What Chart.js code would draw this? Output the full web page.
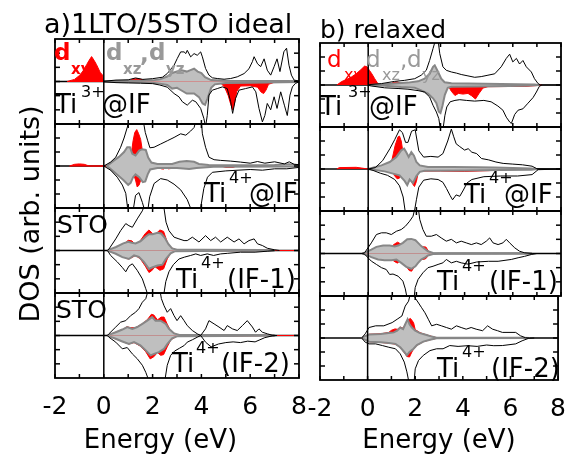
<!DOCTYPE html>
<html>
<head>
<meta charset="utf-8">
<script src="https://cdn.jsdelivr.net/npm/chart.js@4.4.1/dist/chart.umd.min.js"></script>
<style>
  html, body { margin: 0; padding: 0; background: #fff; }
  #wrap { position: relative; width: 580px; height: 454px; overflow: hidden; }
  #wrap canvas { position: absolute; left: 0; top: 0; }
</style>
</head>
<body>
<div id="wrap"></div>
<script>
// [energy (eV), DOS] pairs. tot = black outline, xz = gray d_xz,d_yz, xy = red d_xy
// a) 1LTO/5STO ideal
const a1_tot_up = [[0,0.02],[0.5,0.1],[1.0,0.12],[1.3,0.25],[1.6,0.15],[2.0,0.2],[2.4,0.3],[2.6,0.56],[2.88,1.15],[3.01,1.62],[3.15,2.09],[3.29,2.09],[3.36,1.97],[3.42,2.2],[3.56,1.74],[3.7,1.97],[3.83,1.85],[3.97,2.09],[4.04,1.74],[4.17,0.92],[4.31,0.45],[4.45,0.26],[4.65,0.21],[4.93,0.16],[5.2,0.21],[5.47,0.33],[5.75,0.56],[5.95,0.9],[6.09,1.4],[6.16,1.75],[6.3,1.25],[6.43,1.05],[6.57,1.6],[6.7,0.8],[6.84,0.45],[6.98,1.05],[7.1,1.6],[7.22,0.7],[7.38,2.1],[7.49,2.35],[7.59,1.15],[7.69,0.45],[7.8,0.1],[8,0.03]];
const a1_tot_dn = [[0,-0.02],[0.5,-0.08],[1.0,-0.1],[1.5,-0.12],[2.0,-0.15],[2.3,-0.25],[2.6,-0.4],[2.88,-0.85],[3.08,-1.08],[3.22,-1.43],[3.42,-1.67],[3.63,-1.32],[3.77,-1.43],[3.97,-1.9],[4.1,-2.6],[4.17,-3.2],[4.24,-2.4],[4.31,-0.96],[4.45,-0.61],[4.65,-0.5],[4.86,-0.38],[5.06,-0.5],[5.2,-1.43],[5.28,-2.25],[5.4,-1.2],[5.54,-0.61],[5.81,-0.5],[6.09,-0.38],[6.23,-0.73],[6.36,-1.9],[6.5,-2.85],[6.6,-2.4],[6.7,-1.55],[6.84,-2.0],[6.98,-1.08],[7.1,-1.9],[7.25,-0.73],[7.4,-1.67],[7.52,-2.4],[7.63,-0.96],[7.73,-0.38],[7.85,-0.14],[8,-0.02]];
const a1_xz_up = [[0,0],[0.5,0.04],[1.5,0.06],[2.0,0.08],[2.3,0.15],[2.6,0.35],[2.8,0.6],[3.0,0.7],[3.2,0.8],[3.4,0.7],[3.55,0.8],[3.7,0.9],[3.85,0.7],[4.0,0.6],[4.15,0.3],[4.4,0.1],[5,0.05],[7.5,0.03],[8,0.02]];
const a1_xz_dn = [[0,0],[0.5,-0.04],[1.5,-0.06],[2.06,-0.1],[2.3,-0.15],[2.6,-0.25],[2.8,-0.5],[3.0,-0.45],[3.15,-0.6],[3.4,-0.85],[3.7,-0.85],[3.9,-1.1],[4.05,-1.55],[4.15,-1.65],[4.25,-1.2],[4.4,-0.45],[4.55,-0.2],[5,-0.1],[6,-0.08],[8,-0.03]];
const a1_xy_up = [[-1.5,0],[-1.2,0.15],[-1.0,0.42],[-0.85,0.75],[-0.7,1.2],[-0.6,1.5],[-0.5,1.76],[-0.4,1.5],[-0.3,1.2],[-0.15,0.65],[-0.05,0.45],[-0.02,0],[1.0,0],[1.2,0.18],[1.4,0.2],[1.6,0.12],[1.75,0],[8,0]];
const a1_xy_dn = [[-1.5,0],[4.5,0],[4.8,-0.12],[4.95,-0.4],[5.1,-1.0],[5.2,-1.6],[5.28,-2.0],[5.35,-1.6],[5.45,-0.7],[5.6,-0.32],[6.0,-0.3],[6.3,-0.4],[6.45,-0.75],[6.55,-0.85],[6.65,-0.6],[6.75,-0.2],[7.0,-0.05],[7.3,0],[8,0]];

const a2_tot_up = [[0,0],[0.28,0.28],[0.49,0.63],[0.69,1.34],[0.83,2.0],[0.96,2.75],[1.03,3.2],[1.62,3.2],[1.7,2.4],[1.8,1.8],[1.89,1.3],[2.06,1.34],[2.33,1.57],[2.6,1.8],[2.88,2.04],[3.15,2.3],[3.36,2.2],[3.56,2.5],[3.7,2.75],[3.77,3.2],[4.0,3.2],[4.04,2.3],[4.17,1.34],[4.31,0.63],[4.52,0.45],[4.79,0.4],[5.2,0.35],[5.6,0.28],[6.0,0.2],[6.3,0.32],[6.6,0.2],[7.0,0.3],[7.4,0.15],[7.6,0.3],[7.8,0.12],[8,0.1]];
const a2_tot_dn = [[0,0],[0.28,-0.3],[0.55,-0.8],[0.76,-1.36],[0.9,-1.95],[0.99,-3.2],[1.2,-3.2],[1.3,-2.1],[1.44,-1.9],[1.58,-2.6],[1.68,-3.2],[1.8,-3.2],[1.88,-2.2],[2.06,-1.25],[2.33,-0.9],[2.6,-1.0],[2.88,-1.3],[3.15,-1.7],[3.42,-2.4],[3.6,-3.2],[3.95,-3.2],[4.1,-1.6],[4.25,-0.8],[4.45,-0.45],[5.0,-0.35],[5.5,-0.3],[6.0,-0.25],[6.5,-0.3],[7.0,-0.2],[7.5,-0.2],[8,-0.1]];
const a2_xz_up = [[0.1,0],[0.2,0.1],[0.42,0.4],[0.62,0.65],[0.83,1.0],[0.96,1.34],[1.07,1.34],[1.17,0.87],[1.3,0.75],[1.45,1.1],[1.58,1.2],[1.72,1.15],[1.82,0.6],[1.95,0.25],[2.2,0.15],[2.8,0.15],[3.1,0.3],[3.4,0.35],[3.7,0.3],[3.9,0.15],[4.3,0.08],[5,0.06],[6,0.06],[7,0.08],[7.6,0.12],[8,0.05]];
const a2_xz_dn = [[0.1,0],[0.2,-0.1],[0.4,-0.4],[0.6,-0.7],[0.8,-1.0],[1.0,-1.35],[1.1,-1.2],[1.2,-0.8],[1.3,-0.6],[1.45,-0.8],[1.6,-1.15],[1.7,-1.1],[1.8,-0.6],[1.9,-0.25],[2.2,-0.15],[3.0,-0.15],[3.5,-0.22],[3.8,-0.15],[4.5,-0.06],[8,-0.03]];
const a2_xy_up = [[-1.4,0],[-1.2,0.12],[-1.0,0.15],[-0.8,0.12],[-0.6,0],[1.05,0],[1.12,0.8],[1.2,1.8],[1.27,2.4],[1.35,2.6],[1.43,2.3],[1.51,1.9],[1.58,1.1],[1.66,0.2],[1.72,0],[8,0]];
const a2_xy_dn = [[-1.4,0],[1.12,0],[1.2,-0.5],[1.3,-1.0],[1.37,-1.5],[1.45,-1.35],[1.55,-0.8],[1.62,-0.2],[1.7,0],[2.25,0],[2.35,-0.2],[2.45,-0.22],[2.55,-0.05],[2.65,-0.2],[2.75,-0.18],[2.85,0],[4.8,0],[5.0,-0.1],[5.3,-0.1],[5.45,0],[8,0]];

const a3_tot_up = [[0.15,0],[0.21,0.1],[0.49,0.82],[0.69,1.4],[0.9,1.9],[1.03,1.75],[1.17,1.64],[1.37,2.23],[1.58,2.8],[1.67,3.2],[2.45,3.2],[2.55,2.0],[2.67,1.4],[2.88,0.94],[3.08,0.82],[3.29,0.7],[3.42,0.7],[3.63,0.94],[3.9,0.6],[4.17,1.05],[4.38,0.7],[4.58,0.94],[4.79,0.6],[5.06,0.94],[5.34,0.6],[5.54,0.82],[5.75,0.47],[5.95,0.7],[6.16,0.82],[6.3,0.47],[6.5,0.35],[6.7,0.16],[7.0,0.05],[7.2,0]];
const a3_tot_dn = [[0.15,0],[0.28,-0.35],[0.55,-0.8],[0.76,-1.2],[0.9,-1.5],[1.03,-1.1],[1.17,-0.94],[1.37,-1.4],[1.58,-2.0],[1.72,-2.7],[1.82,-3.2],[2.45,-3.2],[2.54,-2.2],[2.67,-1.5],[2.85,-1.0],[3.08,-0.6],[3.3,-0.47],[3.56,-0.35],[3.77,-0.24],[3.97,-0.35],[4.24,-0.24],[4.5,-0.35],[4.79,-0.24],[5.06,-0.2],[5.6,-0.12],[6.2,-0.12],[6.7,-0.05],[7.0,0]];
const a3_xz_up = [[0.15,0],[0.2,0.05],[0.5,0.25],[0.8,0.5],[1.0,0.62],[1.15,0.55],[1.3,0.5],[1.5,0.65],[1.7,0.95],[1.85,1.15],[2.0,1.15],[2.2,1.25],[2.35,1.2],[2.5,0.9],[2.65,0.45],[2.8,0.15],[3.0,0.06],[4.0,0.05],[6.5,0.04],[7,0]];
const a3_xz_dn = [[0.15,0],[0.2,-0.05],[0.49,-0.23],[0.76,-0.47],[1.03,-0.6],[1.24,-0.35],[1.44,-0.45],[1.65,-0.82],[1.85,-1.3],[1.98,-1.2],[2.2,-1.06],[2.4,-1.0],[2.54,-0.6],[2.74,-0.2],[2.9,-0.06],[4,-0.04],[7,0]];
const a3_xy_up = [[0.15,0],[0.5,0.15],[0.8,0.4],[1.0,0.72],[1.15,0.68],[1.3,0.4],[1.5,0.7],[1.7,1.2],[1.85,1.45],[2.0,1.2],[2.15,1.2],[2.3,1.45],[2.45,1.35],[2.6,0.6],[2.75,0.2],[3.0,0.03],[6.5,0.02],[7,0],[8,0]];
const a3_xy_dn = [[0.15,0],[0.5,-0.2],[0.8,-0.45],[1.0,-0.6],[1.15,-0.5],[1.3,-0.35],[1.5,-0.6],[1.7,-1.1],[1.85,-1.55],[1.95,-1.45],[2.1,-1.15],[2.3,-1.4],[2.45,-1.3],[2.6,-0.6],[2.75,-0.15],[3.0,-0.02],[7,0],[8,0]];

const a4_tot_up = [[0.15,0],[0.21,0.12],[0.49,0.6],[0.69,0.94],[0.9,1.05],[1.1,1.4],[1.3,1.64],[1.44,1.9],[1.58,2.35],[1.72,2.6],[1.82,3.2],[2.3,3.2],[2.36,2.6],[2.47,2.1],[2.6,1.64],[2.74,1.9],[2.88,1.4],[3.0,1.05],[3.15,1.4],[3.29,1.05],[3.42,0.7],[3.63,0.35],[3.83,0.12],[3.97,0],[4.17,0.47],[4.31,1.05],[4.52,0.82],[4.72,0.6],[4.93,0.35],[5.06,0.7],[5.27,0.47],[5.47,0.35],[5.68,0.7],[5.88,1.05],[6.09,0.6],[6.22,0.23],[6.36,0.47],[6.5,0.23],[6.7,0.12],[6.9,0.02],[7.1,0]];
const a4_tot_dn = [[0.15,0],[0.21,-0.12],[0.49,-0.47],[0.76,-0.94],[0.96,-0.85],[1.17,-1.3],[1.37,-1.64],[1.58,-2.1],[1.72,-2.6],[1.85,-3.2],[2.5,-3.2],[2.6,-2.1],[2.74,-1.4],[2.9,-1.1],[3.1,-0.9],[3.3,-0.7],[3.42,-0.47],[3.63,-0.3],[3.83,-0.12],[3.97,0],[4.17,-0.47],[4.4,-0.8],[4.7,-0.6],[5.0,-0.5],[5.3,-0.45],[5.6,-0.5],[5.9,-0.4],[6.2,-0.45],[6.4,-0.3],[6.6,-0.15],[6.9,-0.03],[7.1,0]];
const a4_xz_up = [[0.15,0],[0.2,0.05],[0.49,0.23],[0.76,0.42],[0.96,0.6],[1.17,0.47],[1.37,0.6],[1.58,0.82],[1.78,1.05],[1.98,1.3],[2.12,1.05],[2.33,1.05],[2.54,0.82],[2.67,0.47],[2.88,0.15],[3.1,0.04],[5,0.03],[6.5,0.04],[7,0]];
const a4_xz_dn = [[0.15,0],[0.2,-0.05],[0.49,-0.23],[0.76,-0.42],[1.03,-0.6],[1.24,-0.47],[1.5,-0.7],[1.72,-1.05],[1.92,-1.4],[2.06,-1.3],[2.26,-1.17],[2.47,-0.94],[2.6,-0.6],[2.8,-0.2],[3.0,-0.06],[5,-0.03],[7,0]];
const a4_xy_up = [[0.15,0],[0.5,0.25],[0.8,0.45],[0.95,0.62],[1.1,0.55],[1.3,0.55],[1.6,0.85],[1.8,1.15],[1.95,1.5],[2.05,1.45],[2.2,1.1],[2.35,1.3],[2.47,1.3],[2.6,0.8],[2.75,0.3],[3.0,0.05],[6.5,0.03],[7,0],[8,0]];
const a4_xy_dn = [[0.15,0],[0.5,-0.25],[0.8,-0.45],[1.03,-0.6],[1.24,-0.5],[1.5,-0.75],[1.72,-1.15],[1.9,-1.65],[2.05,-1.5],[2.2,-1.2],[2.33,-1.4],[2.45,-1.35],[2.6,-0.8],[2.75,-0.3],[3.0,-0.05],[7,0],[8,0]];

// b) relaxed
const b1_tot_up = [[0,0.02],[0.55,0.1],[1.1,0.26],[1.5,0.33],[1.93,0.45],[2.2,0.7],[2.41,1.05],[2.55,1.76],[2.69,2.6],[2.79,3.2],[2.9,3.2],[2.97,2.24],[3.1,1.3],[3.24,1.05],[3.45,0.93],[3.66,0.85],[3.86,0.75],[4.14,0.65],[4.42,0.55],[4.69,0.6],[4.97,0.7],[5.25,0.8],[5.52,1.3],[5.73,1.9],[5.87,2.2],[6.0,1.65],[6.15,1.9],[6.28,1.5],[6.42,1.75],[6.56,1.3],[6.77,0.93],[6.9,0.45],[7.05,0.1],[7.15,0],[8,0]];
const b1_tot_dn = [[0,-0.02],[0.13,-0.07],[0.68,-0.2],[1.24,-0.25],[1.65,-0.3],[2.07,-0.4],[2.34,-0.5],[2.55,-0.86],[2.69,-1.45],[2.83,-1.93],[2.93,-2.4],[3.0,-3.2],[3.1,-3.2],[3.18,-2.2],[3.26,-1.57],[3.4,-1.2],[3.6,-1.1],[3.8,-1.05],[4.07,-1.1],[4.42,-1.15],[4.8,-1.1],[5.1,-1.2],[5.38,-1.5],[5.59,-1.8],[5.73,-2.3],[5.87,-2.64],[5.94,-2.75],[6.08,-2.1],[6.22,-1.8],[6.42,-1.7],[6.63,-1.3],[6.84,-0.9],[6.98,-0.5],[7.1,-0.1],[7.2,0]];
const b1_xz_up = [[0,0],[0.68,0.05],[1.24,0.12],[1.65,0.17],[2.07,0.26],[2.34,0.45],[2.55,0.8],[2.69,1.3],[2.76,1.4],[2.9,0.93],[3.03,0.45],[3.17,0.2],[3.45,0.12],[4.14,0.1],[5.52,0.07],[6.9,0.03],[7.1,0]];
const b1_xz_dn = [[0,0],[0.68,-0.05],[1.37,-0.15],[1.93,-0.2],[2.2,-0.38],[2.48,-0.62],[2.69,-0.95],[2.83,-1.3],[2.93,-1.9],[3.0,-2.0],[3.08,-1.5],[3.18,-0.7],[3.3,-0.2],[3.45,-0.12],[4.5,-0.1],[6.5,-0.06],[7.1,0]];
const b1_xy_up = [[-1.3,0],[-1.1,0.25],[-0.95,0.35],[-0.7,0.57],[-0.5,0.8],[-0.3,1.1],[-0.15,1.35],[-0.05,1.3],[0.05,1.05],[0.15,0.8],[0.27,0.45],[0.4,0.1],[0.5,0],[0.9,0],[1.0,0.15],[1.2,0.22],[1.4,0.1],[1.5,0]];
const b1_xy_dn = [[3.3,0],[3.45,-0.45],[3.6,-0.75],[3.75,-0.6],[3.93,-0.65],[4.14,-0.6],[4.3,-0.78],[4.45,-1.0],[4.6,-0.6],[4.76,-0.22],[4.97,-0.12],[6.5,-0.1],[7.0,-0.04],[7.2,0]];

const b2_tot_up = [[0,0],[0.3,0.1],[0.6,0.6],[0.9,1.45],[1.1,2.1],[1.3,2.8],[1.42,2.6],[1.55,1.9],[1.65,1.9],[1.8,2.7],[1.95,2.8],[2.1,1.3],[2.3,0.85],[2.6,0.9],[2.9,0.85],[3.1,1.1],[3.3,2.0],[3.45,2.85],[3.55,2.3],[3.65,1.8],[3.8,1.6],[4.0,1.35],[4.15,1.45],[4.3,1.2],[4.5,1.1],[4.7,0.75],[5.0,0.65],[5.3,0.5],[5.6,0.4],[6.0,0.35],[6.4,0.3],[6.8,0.2],[7.0,0.02],[8,0]];
const b2_tot_dn = [[0,0],[0.2,-0.1],[0.5,-0.3],[0.8,-0.45],[1.1,-0.75],[1.3,-1.2],[1.45,-2.0],[1.55,-3.2],[1.9,-3.2],[2.0,-2.2],[2.1,-1.3],[2.3,-0.8],[2.6,-0.7],[2.9,-0.75],[3.1,-0.95],[3.25,-1.4],[3.4,-1.9],[3.5,-2.2],[3.65,-1.85],[3.8,-1.95],[3.95,-1.5],[4.1,-1.0],[4.3,-0.75],[4.8,-0.55],[5.5,-0.5],[6.2,-0.5],[6.8,-0.4],[7.05,-0.05],[8,0]];
const b2_xz_up = [[0,0],[0.55,0.26],[0.89,0.5],[1.17,0.86],[1.37,1.33],[1.49,1.45],[1.58,1.2],[1.68,0.86],[1.79,1.2],[1.9,0.95],[2.0,0.5],[2.14,0.26],[2.48,0.14],[3.5,0.14],[4.5,0.12],[5.25,0.1],[6.0,0.07],[6.77,0.04],[7.0,0]];
const b2_xz_dn = [[0,0],[0.68,-0.17],[1.03,-0.33],[1.3,-0.45],[1.51,-0.85],[1.62,-1.15],[1.72,-0.75],[1.86,-1.0],[2.0,-0.5],[2.14,-0.2],[2.34,-0.12],[4,-0.1],[5.5,-0.08],[6.77,-0.05],[7.0,0]];
const b2_xy_up = [[-1.3,0],[-1.2,0.1],[-0.5,0.12],[-0.2,0.05],[0,0],[0.89,0],[0.95,0.4],[1.03,1.0],[1.12,1.7],[1.24,2.3],[1.3,2.35],[1.37,2.0],[1.42,1.45],[1.44,0.8],[1.5,0.3],[1.6,0]];
const b2_xy_dn = [[1.0,0],[1.08,-0.45],[1.2,-0.7],[1.3,-0.65],[1.38,-0.2],[1.45,0],[1.75,0],[1.82,-1.0],[1.92,-1.25],[2.0,-0.9],[2.08,-0.2],[2.15,-0.15],[3.0,-0.15],[4.0,-0.17],[5.0,-0.12],[5.5,-0.05],[6,0]];

const b3_tot_up = [[-0.25,0],[-0.15,0.05],[0.13,0.75],[0.34,1.34],[0.55,1.46],[0.75,1.46],[0.96,1.34],[1.17,1.57],[1.37,1.69],[1.54,1.92],[1.72,2.28],[1.86,2.63],[1.94,3.2],[2.08,3.2],[2.14,2.4],[2.27,1.69],[2.41,1.22],[2.62,1.22],[2.83,1.34],[3.03,1.1],[3.24,0.87],[3.45,1.0],[3.66,0.75],[3.86,0.87],[4.07,0.75],[4.28,0.63],[4.49,0.75],[4.69,0.63],[4.9,0.87],[5.04,1.1],[5.18,0.75],[5.39,0.63],[5.59,0.75],[5.73,1.0],[5.87,0.75],[6.08,0.4],[6.28,0.16],[6.49,0.05],[6.8,0]];
const b3_tot_dn = [[-0.25,0],[-0.15,-0.05],[0.13,-0.54],[0.34,-0.77],[0.55,-1.0],[0.75,-1.13],[0.89,-1.48],[1.03,-1.45],[1.24,-1.6],[1.44,-1.95],[1.54,-2.5],[1.62,-3.2],[1.9,-3.2],[1.95,-2.4],[2.07,-1.83],[2.27,-1.36],[2.48,-1.0],[2.69,-0.9],[2.9,-0.77],[3.1,-0.66],[3.24,-0.42],[3.45,-0.66],[3.66,-0.55],[3.86,-0.66],[4.14,-0.75],[4.5,-0.6],[5.0,-0.55],[5.39,-0.55],[5.94,-0.42],[6.22,-0.3],[6.49,-0.2],[6.77,-0.07],[7.0,0]];
const b3_xz_up = [[-0.25,0],[-0.15,0.05],[0.13,0.28],[0.34,0.47],[0.62,0.56],[0.89,0.56],[1.1,0.5],[1.24,0.56],[1.44,0.75],[1.62,1.0],[1.79,1.03],[1.96,0.94],[2.07,0.75],[2.2,0.52],[2.34,0.33],[2.48,0.16],[2.69,0.04],[3,0.02],[6.5,0.02],[6.8,0]];
const b3_xz_dn = [[-0.25,0],[-0.15,-0.05],[0.13,-0.26],[0.41,-0.42],[0.68,-0.47],[0.96,-0.47],[1.17,-0.42],[1.37,-0.66],[1.58,-0.94],[1.79,-1.08],[1.96,-0.9],[2.07,-0.66],[2.2,-0.42],[2.34,-0.3],[2.48,-0.14],[2.69,-0.04],[3,-0.02],[6.8,0]];
const b3_xy_up = [[-0.25,0],[0.13,0.2],[0.4,0.4],[0.7,0.5],[1.0,0.55],[1.12,0.7],[1.22,0.8],[1.32,0.7],[1.45,0.7],[1.7,0.95],[2.0,0.85],[2.2,0.5],[2.3,0.48],[2.4,0.45],[2.5,0.15],[2.7,0]];
const b3_xy_dn = [[-0.25,0],[0.13,-0.2],[0.4,-0.35],[0.7,-0.42],[1.0,-0.45],[1.12,-0.6],[1.22,-0.68],[1.32,-0.5],[1.5,-0.7],[1.7,-1.2],[1.8,-1.25],[1.95,-0.85],[2.2,-0.4],[2.3,-0.42],[2.4,-0.35],[2.5,-0.12],[2.7,0]];

const b4_tot_up = [[-0.25,0],[-0.1,0.3],[0.06,0.75],[0.34,0.87],[0.68,0.87],[1.03,1.1],[1.24,1.34],[1.44,1.57],[1.58,2.28],[1.72,2.63],[1.8,3.2],[1.95,3.2],[2.0,2.85],[2.14,2.5],[2.27,2.16],[2.41,1.8],[2.55,1.34],[2.69,0.87],[2.9,0.98],[3.1,0.87],[3.31,0.75],[3.52,0.63],[3.73,0.87],[3.93,0.75],[4.14,0.63],[4.35,0.75],[4.56,0.63],[4.83,0.52],[5.04,0.87],[5.25,0.63],[5.46,0.52],[5.66,0.4],[5.94,0.4],[6.22,0.4],[6.42,0.16],[6.63,0.02],[6.8,0]];
const b4_tot_dn = [[-0.25,0],[-0.1,-0.3],[0.06,-0.42],[0.34,-0.42],[0.62,-0.54],[0.89,-0.66],[1.17,-0.77],[1.37,-1.13],[1.54,-1.72],[1.65,-2.42],[1.74,-3.2],[1.95,-3.2],[2.0,-2.2],[2.14,-1.6],[2.34,-1.24],[2.62,-0.9],[2.9,-0.77],[3.17,-0.77],[3.45,-0.54],[3.8,-0.6],[4.2,-0.55],[4.6,-0.6],[5.0,-0.5],[5.3,-0.55],[5.66,-0.54],[6.22,-0.42],[6.49,-0.2],[6.77,-0.02],[7.0,0]];
const b4_xz_up = [[-0.25,0],[-0.15,0.1],[0.06,0.25],[0.55,0.28],[0.89,0.35],[1.1,0.4],[1.24,0.52],[1.37,0.75],[1.49,0.64],[1.58,0.98],[1.68,1.34],[1.76,0.98],[1.86,0.75],[2.0,0.52],[2.2,0.35],[2.48,0.21],[2.69,0.1],[2.9,0.02],[6.5,0.01],[6.8,0]];
const b4_xz_dn = [[-0.25,0],[-0.15,-0.08],[0.06,-0.26],[0.55,-0.3],[0.89,-0.35],[1.17,-0.42],[1.37,-0.66],[1.54,-1.0],[1.65,-1.24],[1.76,-1.0],[1.93,-0.77],[2.07,-0.5],[2.34,-0.26],[2.62,-0.12],[2.9,-0.02],[6.8,0]];
const b4_xy_up = [[-0.25,0],[-0.15,0.1],[0.06,0.27],[0.55,0.3],[0.89,0.4],[1.0,0.55],[1.15,0.65],[1.25,0.62],[1.37,0.78],[1.49,0.7],[1.58,1.0],[1.7,1.3],[1.8,1.4],[1.93,1.1],[2.0,0.6],[2.2,0.38],[2.48,0.22],[2.69,0.12],[2.9,0.02],[3.0,0]];
const b4_xy_dn = [[-0.25,0],[-0.15,-0.08],[0.06,-0.27],[0.55,-0.32],[0.89,-0.37],[1.17,-0.44],[1.37,-0.68],[1.54,-1.05],[1.65,-1.32],[1.76,-1.36],[1.86,-1.0],[1.93,-0.8],[2.07,-0.52],[2.34,-0.27],[2.62,-0.13],[2.9,-0.02],[3.0,0]];

const energyTicks = [-2, 0, 2, 4, 6, 8];
const xTitle = 'Energy (eV)';
const yTitle = 'DOS (arb. units)';

Chart.defaults.font.family = '"DejaVu Sans", sans-serif';
Chart.defaults.color = '#000';

const RED = '#ff0000', GRAY = '#bfbfbf', GRAY_LINE = '#878787', LABEL_GRAY = '#999999';

// inward ticks, frame, E=0 line, zero baseline and the panel texts
const framePlugin = {
  id: 'frame',
  beforeDatasetsDraw(chart) {
    const { ctx, chartArea: a, scales: { y } } = chart;
    const y0 = y.getPixelForValue(0);
    ctx.save();
    ctx.strokeStyle = '#000';
    ctx.lineWidth = 1.6;
    ctx.beginPath(); ctx.moveTo(a.left, y0); ctx.lineTo(a.right, y0); ctx.stroke();
    ctx.restore();
  },
  afterDatasetsDraw(chart) {
    const { ctx, chartArea: a, scales: { x, y } } = chart;
    ctx.save();
    ctx.strokeStyle = '#000';
    ctx.lineWidth = 1.5;
    const seg = (x1, y1, x2, y2) => { ctx.beginPath(); ctx.moveTo(x1, y1); ctx.lineTo(x2, y2); ctx.stroke(); };
    const x0 = x.getPixelForValue(0);
    seg(x0, a.top, x0, a.bottom);
    for (let e = -2; e <= 8; e++) {
      const px = x.getPixelForValue(e);
      seg(px, a.bottom, px, a.bottom - 4);
      seg(px, a.top, px, a.top + 4);
    }
    for (let v = -2; v <= 2; v++) {
      const py = y.getPixelForValue(v);
      seg(a.left, py, a.left + 5, py);
      seg(a.right, py, a.right - 5, py);
    }
    ctx.lineWidth = 1.8;
    ctx.strokeRect(a.left, a.top, a.right - a.left, a.bottom - a.top);
    ctx.restore();
  },
  afterDraw(chart, args, opts) {
    const ctx = chart.ctx;
    (opts.texts || []).forEach(t => {
      ctx.save();
      ctx.font = (t.w || 'normal') + ' ' + t.f + 'px "DejaVu Sans"';
      ctx.fillStyle = t.c || '#000';
      ctx.textBaseline = 'alphabetic';
      if (t.rot) {
        ctx.translate(t.x, t.y);
        ctx.rotate(-Math.PI / 2);
        ctx.textAlign = 'center';
        ctx.fillText(t.s, 0, 0);
      } else {
        ctx.textAlign = 'left';
        ctx.fillText(t.s, t.x, t.y);
      }
      ctx.restore();
    });
  }
};

const W = 580, H = 454;
const wrap = document.getElementById('wrap');

function toXY(arr) {
  return arr.map(p => ({ x: p[0], y: p[1] }));
}

function makePanel(p) {
  const cv = document.createElement('canvas');
  cv.width = W;
  cv.height = H;
  wrap.appendChild(cv);
  const [l, t, r, b] = p.rect;
  const base = { pointRadius: 0, tension: 0 };
  const datasets = [
    { ...base, data: toXY(p.xy[0]), borderColor: RED, backgroundColor: RED, borderWidth: 1, fill: 'origin', order: 3 },
    { ...base, data: toXY(p.xy[1]), borderColor: RED, backgroundColor: RED, borderWidth: 1, fill: 'origin', order: 3 },
    { ...base, data: toXY(p.xz[0]), borderColor: GRAY_LINE, backgroundColor: GRAY, borderWidth: 2, fill: 'origin', order: 2 },
    { ...base, data: toXY(p.xz[1]), borderColor: GRAY_LINE, backgroundColor: GRAY, borderWidth: 2, fill: 'origin', order: 2 },
    { ...base, data: toXY(p.tot[0]), borderColor: '#000', borderWidth: 1, fill: false, order: 1 },
    { ...base, data: toXY(p.tot[1]), borderColor: '#000', borderWidth: 1, fill: false, order: 1 }
  ];
  const xScale = {
    type: 'linear', min: -2, max: 8,
    display: !!p.bottom,
    grid: { display: false, drawTicks: false },
    border: { display: false },
    ticks: {
      stepSize: 1, autoSkip: false, maxRotation: 0, padding: 14,
      font: { size: 25 },
      callback: v => (energyTicks.includes(v) ? String(v) : '')
    },
    title: {
      display: !!p.bottom, text: p.xTitle || xTitle,
      font: { size: 26, lineHeight: 1 }, padding: { top: 0, bottom: 0 }
    }
  };
  if (p.bottom) {
    const axisH = H - b;
    xScale.afterFit = s => { s.height = axisH; };
  }
  new Chart(cv, {
    type: 'line',
    data: { datasets },
    options: {
      responsive: false,
      animation: false,
      devicePixelRatio: 1,
      events: [],
      layout: { padding: { left: l, top: t, right: W - r, bottom: p.bottom ? 0 : H - b } },
      scales: {
        x: xScale,
        y: { type: 'linear', min: -3, max: 3, display: false }
      },
      plugins: {
        legend: { display: false },
        tooltip: { enabled: false },
        frame: { texts: p.texts }
      }
    },
    plugins: [framePlugin]
  });
}

const sup = 16;
const panels = [
  { rect: [55, 39, 299, 124], tot: [a1_tot_up, a1_tot_dn], xz: [a1_xz_up, a1_xz_dn], xy: [a1_xy_up, a1_xy_dn],
    texts: [
      { s: 'a)1LTO/5STO ideal', x: 44, y: 33, f: 27 },
      { s: yTitle, x: 39, y: 214, f: 27, rot: true },
      { s: 'd', x: 54, y: 60, f: 23, w: 'bold', c: RED },
      { s: 'xy', x: 71, y: 74, f: 15, w: 'bold', c: RED },
      { s: 'd', x: 106, y: 60, f: 23, w: 'bold', c: LABEL_GRAY },
      { s: 'xz', x: 123, y: 74, f: 15, w: 'bold', c: LABEL_GRAY },
      { s: ',', x: 140, y: 62, f: 23, w: 'bold', c: LABEL_GRAY },
      { s: 'd', x: 149, y: 60, f: 23, w: 'bold', c: LABEL_GRAY },
      { s: 'yz', x: 166, y: 74, f: 15, w: 'bold', c: LABEL_GRAY },
      { s: 'Ti', x: 55, y: 113, f: 26 },
      { s: '3+', x: 81, y: 97, f: sup },
      { s: '@IF', x: 102, y: 113, f: 26 }
    ] },
  { rect: [55, 124, 299, 208], tot: [a2_tot_up, a2_tot_dn], xz: [a2_xz_up, a2_xz_dn], xy: [a2_xy_up, a2_xy_dn],
    texts: [
      { s: 'Ti', x: 204, y: 202, f: 26 },
      { s: '4+', x: 229, y: 183, f: sup },
      { s: '@IF', x: 249, y: 202, f: 26 }
    ] },
  { rect: [55, 208, 299, 293], tot: [a3_tot_up, a3_tot_dn], xz: [a3_xz_up, a3_xz_dn], xy: [a3_xy_up, a3_xy_dn],
    texts: [
      { s: 'STO', x: 57, y: 233, f: 25 },
      { s: 'Ti', x: 176, y: 288, f: 26 },
      { s: '4+', x: 201, y: 268, f: sup },
      { s: '(IF-1)', x: 227, y: 288, f: 26 }
    ] },
  { rect: [55, 293, 299, 378], bottom: true, xTitle: xTitle + '    ',
    tot: [a4_tot_up, a4_tot_dn], xz: [a4_xz_up, a4_xz_dn], xy: [a4_xy_up, a4_xy_dn],
    texts: [
      { s: 'STO', x: 56, y: 318, f: 25 },
      { s: 'Ti', x: 172, y: 372, f: 26 },
      { s: '4+', x: 196, y: 353, f: sup },
      { s: '(IF-2)', x: 221, y: 372, f: 26 }
    ] },
  { rect: [320, 43, 561, 127], tot: [b1_tot_up, b1_tot_dn], xz: [b1_xz_up, b1_xz_dn], xy: [b1_xy_up, b1_xy_dn],
    texts: [
      { s: 'b) relaxed', x: 320, y: 38, f: 25 },
      { s: 'd', x: 327, y: 67, f: 23, c: RED },
      { s: 'xy', x: 344, y: 80, f: 16, c: RED },
      { s: 'd', x: 366, y: 67, f: 23, c: LABEL_GRAY },
      { s: 'xz', x: 382, y: 80, f: 16, c: LABEL_GRAY },
      { s: ',', x: 400, y: 67, f: 23, c: LABEL_GRAY },
      { s: 'd', x: 407, y: 67, f: 23, c: LABEL_GRAY },
      { s: 'yz', x: 422, y: 80, f: 16, c: LABEL_GRAY },
      { s: 'Ti', x: 320, y: 115, f: 26 },
      { s: '3+', x: 348, y: 97, f: sup },
      { s: '@IF', x: 369, y: 115, f: 26 }
    ] },
  { rect: [320, 127, 561, 211], tot: [b2_tot_up, b2_tot_dn], xz: [b2_xz_up, b2_xz_dn], xy: [b2_xy_up, b2_xy_dn],
    texts: [
      { s: 'Ti', x: 464, y: 203, f: 26 },
      { s: '4+', x: 489, y: 183, f: sup },
      { s: '@IF', x: 504, y: 203, f: 26 }
    ] },
  { rect: [320, 211, 561, 296], tot: [b3_tot_up, b3_tot_dn], xz: [b3_xz_up, b3_xz_dn], xy: [b3_xy_up, b3_xy_dn],
    texts: [
      { s: 'Ti', x: 437, y: 290, f: 26 },
      { s: '4+', x: 462, y: 271, f: sup },
      { s: '(IF-1)', x: 489, y: 290, f: 26 }
    ] },
  { rect: [320, 296, 561, 380], bottom: true, tot: [b4_tot_up, b4_tot_dn], xz: [b4_xz_up, b4_xz_dn], xy: [b4_xy_up, b4_xy_dn],
    texts: [
      { s: 'Ti', x: 437, y: 377, f: 26 },
      { s: '4+', x: 462, y: 357, f: sup },
      { s: '(IF-2)', x: 491, y: 377, f: 26 }
    ] }
];

panels.forEach(makePanel);
</script>
</body>
</html>
